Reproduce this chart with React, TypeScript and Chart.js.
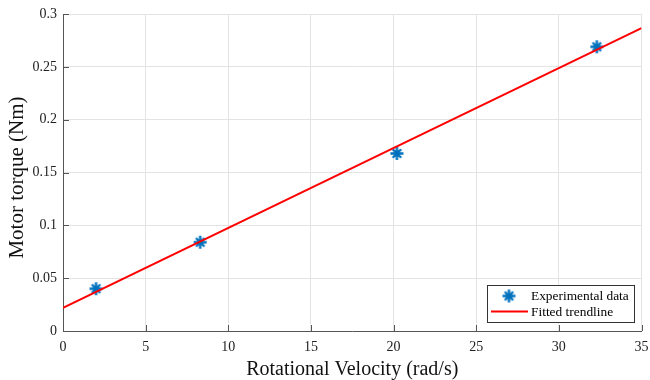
import React, { useEffect, useRef } from "react";
import { Chart, registerables } from "chart.js";

Chart.register(...registerables);

const expVelocity = [2.0, 8.3, 20.2, 32.3];
const expTorque = [0.04, 0.084, 0.168, 0.269];
const fitVelocity = [0, 35];
const fitTorque = [0.0218, 0.2867];
const xTickValues = [0, 5, 10, 15, 20, 25, 30, 35];
const yTickLabels = ["0", "0.05", "0.1", "0.15", "0.2", "0.25", "0.3"];
const seriesLabels = ["Experimental data", "Fitted trendline"];
const xTitle = "Rotational Velocity (rad/s)";
const yTitle = "Motor torque (Nm)";

const BLUE = "#0072BD";
const RED = "#ff0000";
const FONT = "'Liberation Serif', 'Times New Roman', serif";

function makeAsterisk(size: number, color: string): HTMLCanvasElement {
  const c = document.createElement("canvas");
  c.width = size;
  c.height = size;
  const g = c.getContext("2d")!;
  g.strokeStyle = color;
  g.lineWidth = 2.4;
  g.lineCap = "butt";
  const r = size / 2 - 1;
  const cx = size / 2;
  const cy = size / 2;
  const angles = [90, 0, 45, -45];
  g.beginPath();
  for (const a of angles) {
    const rad = (a * Math.PI) / 180;
    const rr = a === 0 || a === 90 ? r : r * 0.92;
    g.moveTo(cx - rr * Math.cos(rad), cy - rr * Math.sin(rad));
    g.lineTo(cx + rr * Math.cos(rad), cy + rr * Math.sin(rad));
  }
  g.stroke();
  return c;
}

export default function App() {
  const ref = useRef<HTMLCanvasElement | null>(null);

  useEffect(() => {
    document.body.style.margin = "0";
    const canvas = ref.current;
    if (!canvas) return;
    const marker = makeAsterisk(15, BLUE);

    const extras = {
      id: "extras",
      afterDraw(chart: any) {
        const ctx = chart.ctx;
        const { left, bottom, top } = chart.chartArea;
        const xs = chart.scales.x;
        const ys = chart.scales.y;
        ctx.save();
        ctx.strokeStyle = "#555555";
        ctx.lineWidth = 1;
        ctx.beginPath();
        xs.ticks.forEach((t: any) => {
          const px = Math.round(xs.getPixelForValue(t.value)) + 0.5;
          ctx.moveTo(px, bottom);
          ctx.lineTo(px, bottom - 6);
        });
        ys.ticks.forEach((t: any) => {
          const py = Math.round(ys.getPixelForValue(t.value)) + 0.5;
          ctx.moveTo(left, py);
          ctx.lineTo(left + 6, py);
        });
        ctx.stroke();

        // y title
        ctx.save();
        ctx.translate(17, (top + bottom) / 2 + 5);
        ctx.rotate(-Math.PI / 2);
        ctx.fillStyle = "#111111";
        ctx.font = "21px " + FONT;
        ctx.textAlign = "center";
        ctx.textBaseline = "middle";
        ctx.fillText(yTitle, 0, 0);
        ctx.restore();

        // legend box
        const bx = 487.5, by = 285.5, bw = 147, bh = 37;
        ctx.fillStyle = "#ffffff";
        ctx.fillRect(bx, by, bw, bh);
        ctx.strokeStyle = "#333333";
        ctx.lineWidth = 1;
        ctx.strokeRect(bx, by, bw, bh);
        ctx.drawImage(marker, 509 - 7.5, 296 - 7.5);
        ctx.strokeStyle = RED;
        ctx.lineWidth = 2;
        ctx.beginPath();
        ctx.moveTo(491, 311.5);
        ctx.lineTo(528, 311.5);
        ctx.stroke();
        ctx.fillStyle = "#000000";
        ctx.font = "13.4px " + FONT;
        ctx.textBaseline = "middle";
        ctx.textAlign = "left";
        ctx.fillText(seriesLabels[0], 531, 296);
        ctx.fillText(seriesLabels[1], 531, 312);
        ctx.restore();
      },
    };

    const chart = new Chart(canvas, {
      type: "scatter",
      data: {
        datasets: [
          {
            type: "line",
            label: seriesLabels[1],
            data: fitVelocity.map((x, i) => ({ x, y: fitTorque[i] })),
            borderColor: RED,
            backgroundColor: RED,
            borderWidth: 2,
            pointRadius: 0,
            fill: false,
            order: 0,
          } as any,
          {
            type: "scatter",
            label: seriesLabels[0],
            data: expVelocity.map((x, i) => ({ x, y: expTorque[i] })),
            pointStyle: marker as any,
            pointRadius: 7.5,
            order: 1,
          },
        ],
      },
      plugins: [extras],
      options: {
        animation: false,
        responsive: false,
        maintainAspectRatio: false,
        layout: { padding: { top: 14, right: 7, left: 0, bottom: 0 } },
        plugins: {
          legend: { display: false },
          tooltip: { enabled: false },
        },
        scales: {
          x: {
            type: "linear",
            min: 0,
            max: 35,
            afterFit: (s: any) => {
              s.height = 49;
              s.paddingLeft = 0;
              s.paddingRight = 0;
            },
            afterBuildTicks: (s: any) => {
              s.ticks = xTickValues.map((v) => ({ value: v }));
            },
            ticks: {
              color: "#222222",
              font: { family: FONT, size: 14 },
              padding: 8,
              maxRotation: 0,
              callback: (v: any) => String(v),
            },
            grid: {
              color: "#e3e3e3",
              drawTicks: false,
            },
            border: { color: "#555555", width: 1 },
            title: {
              display: true,
              text: xTitle,
              color: "#111111",
              font: { family: FONT, size: 20, lineHeight: 1 },
              padding: { top: 1, bottom: 0 },
            },
          },
          y: {
            type: "linear",
            min: 0,
            max: 0.3,
            afterFit: (s: any) => {
              s.width = 63;
              s.paddingTop = 0;
              s.paddingBottom = 0;
            },
            afterBuildTicks: (s: any) => {
              s.ticks = yTickLabels.map((l) => ({ value: parseFloat(l) }));
            },
            ticks: {
              color: "#222222",
              font: { family: FONT, size: 14 },
              padding: 6,
              callback: (v: any) => {
                const idx = yTickLabels.findIndex((l) => Math.abs(parseFloat(l) - v) < 1e-9);
                return idx >= 0 ? yTickLabels[idx] : "";
              },
            },
            grid: {
              color: "#e3e3e3",
              drawTicks: false,
            },
            border: { color: "#555555", width: 1 },
            title: { display: false },
          },
        },
      },
    });
    return () => chart.destroy();
  }, []);

  return (
    <div style={{ width: 650, height: 380, background: "#fff" }}>
      <canvas ref={ref} width={650} height={380} />
    </div>
  );
}
